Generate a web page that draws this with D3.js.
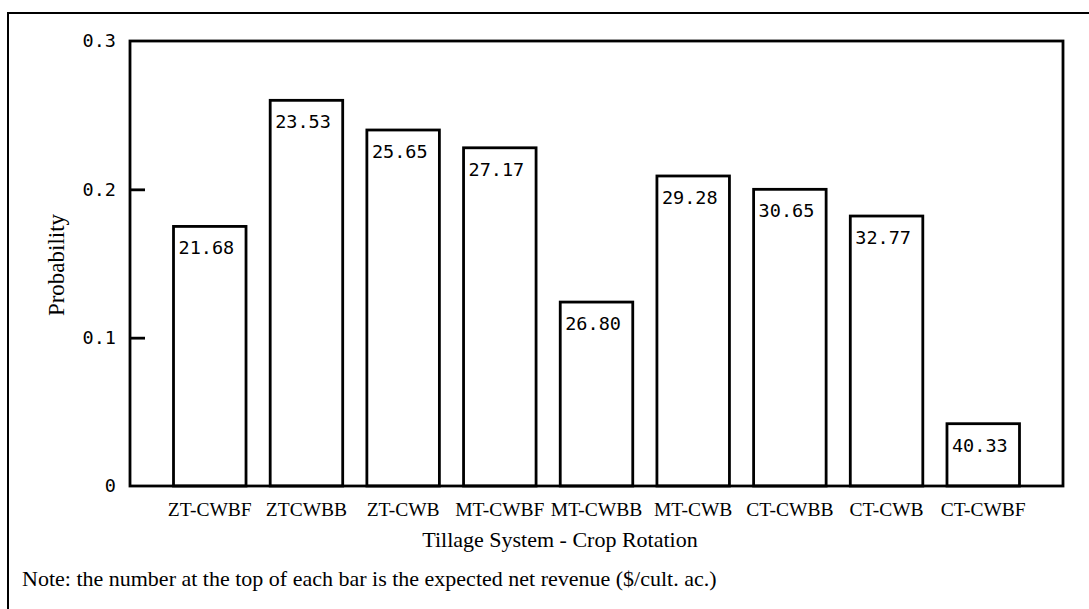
<!DOCTYPE html>
<html>
<head>
<meta charset="utf-8">
<script src="https://cdn.jsdelivr.net/npm/d3@7"></script>
<style>
  html, body { margin: 0; padding: 0; background: #fff; }
  svg { display: block; }
</style>
</head>
<body>
<script>
const categories = ["ZT-CWBF", "ZTCWBB", "ZT-CWB", "MT-CWBF", "MT-CWBB", "MT-CWB", "CT-CWBB", "CT-CWB", "CT-CWBF"];
const probabilities = [0.175, 0.26, 0.24, 0.228, 0.124, 0.209, 0.2, 0.182, 0.042];
const revenueLabels = ["21.68", "23.53", "25.65", "27.17", "26.80", "29.28", "30.65", "32.77", "40.33"];
const yTicks = [0, 0.1, 0.2, 0.3];
const yTickLabels = ["0", "0.1", "0.2", "0.3"];
const yTitle = "Probability";
const xTitle = "Tillage System - Crop Rotation";
const noteText = "Note: the number at the top of each bar is the expected net revenue ($/cult. ac.)";

const W = 1089, H = 609;
const plot = { left: 130, right: 1063, top: 41, bottom: 486 };

const svg = d3.select("body").append("svg").attr("width", W).attr("height", H);

// outer frame (extends past the page on the right and bottom)
svg.append("rect")
  .attr("x", 8).attr("y", 13).attr("width", W + 20).attr("height", H + 20)
  .attr("fill", "none").attr("stroke", "#000").attr("stroke-width", 2);

const x = d3.scaleBand().domain(categories).range([plot.left, plot.right])
  .paddingInner(0.25).paddingOuter(0.45);
const y = d3.scaleLinear().domain([0, 0.3]).range([plot.bottom, plot.top]);

// bars
const g = svg.append("g");
g.selectAll("rect.bar").data(categories).join("rect")
  .attr("class", "bar")
  .attr("x", d => x(d))
  .attr("y", (d, i) => y(probabilities[i]))
  .attr("width", x.bandwidth())
  .attr("height", (d, i) => y(0) - y(probabilities[i]))
  .attr("fill", "#fff").attr("stroke", "#000").attr("stroke-width", 2.8);

g.selectAll("text.val").data(categories).join("text")
  .attr("class", "val")
  .attr("x", d => x(d) + 5)
  .attr("y", (d, i) => y(probabilities[i]) + 28)
  .attr("font-family", "'DejaVu Sans Mono', monospace")
  .attr("font-size", 18.5)
  .attr("fill", "#000")
  .text((d, i) => revenueLabels[i]);

// plot frame
svg.append("rect")
  .attr("x", plot.left).attr("y", plot.top)
  .attr("width", plot.right - plot.left).attr("height", plot.bottom - plot.top)
  .attr("fill", "none").attr("stroke", "#000").attr("stroke-width", 2.8);

// y axis (ticks inward)
const yAxis = d3.axisRight(y).tickValues(yTicks.filter(v => v > 0 && v < 0.3))
  .tickSize(15).tickFormat("");
const ya = svg.append("g").attr("transform", `translate(${plot.left},0)`).call(yAxis);
ya.select(".domain").remove();
ya.selectAll("line").attr("stroke", "#000").attr("stroke-width", 2.8);

svg.selectAll("text.ytick").data(yTicks).join("text")
  .attr("class", "ytick")
  .attr("x", 116)
  .attr("y", d => y(d))
  .attr("dy", "0.35em")
  .attr("text-anchor", "end")
  .attr("font-family", "'DejaVu Sans Mono', monospace")
  .attr("font-size", 18.5)
  .text((d, i) => yTickLabels[i]);

// x labels
svg.selectAll("text.xlab").data(categories).join("text")
  .attr("class", "xlab")
  .attr("x", d => x(d) + x.bandwidth() / 2)
  .attr("y", 516)
  .attr("text-anchor", "middle")
  .attr("font-family", "'Liberation Serif', serif")
  .attr("font-size", 19.5)
  .text(d => d);

svg.append("text")
  .attr("x", 560).attr("y", 547)
  .attr("text-anchor", "middle")
  .attr("font-family", "'Liberation Serif', serif")
  .attr("font-size", 22)
  .text(xTitle);

svg.append("text")
  .attr("transform", "translate(64,265) rotate(-90)")
  .attr("text-anchor", "middle")
  .attr("font-family", "'Liberation Serif', serif")
  .attr("font-size", 23)
  .text(yTitle);

svg.append("text")
  .attr("x", 22).attr("y", 586)
  .attr("font-family", "'Liberation Serif', serif")
  .attr("font-size", 22)
  .text(noteText);
</script>
</body>
</html>
